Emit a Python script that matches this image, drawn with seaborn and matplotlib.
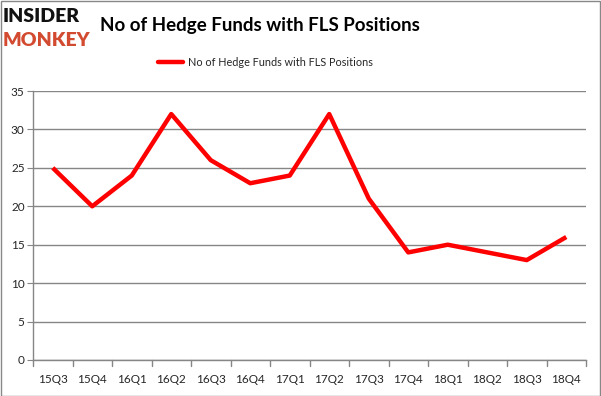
import matplotlib
matplotlib.use("Agg")
import matplotlib.pyplot as plt
import seaborn as sns
import pandas as pd
from matplotlib.patches import Rectangle

quarters = ["15Q3", "15Q4", "16Q1", "16Q2", "16Q3", "16Q4", "17Q1", "17Q2",
            "17Q3", "17Q4", "18Q1", "18Q2", "18Q3", "18Q4"]
funds = [25, 20, 24, 32, 26, 23, 24, 32, 21, 14, 15, 14, 13, 16]
yticks = [0, 5, 10, 15, 20, 25, 30, 35]
series_name = "No of Hedge Funds with FLS Positions"

df = pd.DataFrame({"quarter": quarters, "funds": funds})
df["pos"] = range(len(quarters))

sns.set_style("white")
plt.rcParams["font.family"] = ["Lato", "DejaVu Sans"]

fig = plt.figure(figsize=(6.01, 3.96), dpi=100)
ax = fig.add_axes([33 / 601, 36 / 396, (586 - 33) / 601, (360 - 91) / 396])

sns.lineplot(data=df, x="pos", y="funds", ax=ax, color="#ff0000", linewidth=3.2,
             label=series_name, legend=False, solid_capstyle="butt")

ax.set_xlim(-0.5, len(quarters) - 0.5)
ax.set_ylim(0, 35)
ax.set_yticks(yticks)
ax.set_yticklabels([str(v) for v in yticks], fontsize=8.5)
ax.set_xticks(range(len(quarters)))
ax.set_xticklabels(quarters, fontsize=8.5)
ax.tick_params(axis="x", length=0, pad=10)
ax.tick_params(axis="y", length=4, color="#868686", pad=2, left=True, direction="out")
# category boundary ticks
for b in [i - 0.5 for i in range(len(quarters) + 1)]:
    ax.plot([b, b], [0, -0.8], color="#868686", lw=1, clip_on=False)
ax.grid(axis="y", color="#868686", lw=1)
ax.set_axisbelow(True)
ax.set_xlabel("")
ax.set_ylabel("")
for s in ["top", "right"]:
    ax.spines[s].set_visible(False)
for s in ["left", "bottom"]:
    ax.spines[s].set_color("#868686")
    ax.spines[s].set_linewidth(1)

# Title and logo
fig.text(100 / 601, 1 - 25 / 396, "No of Hedge Funds with FLS Positions",
         fontsize=13.5, fontweight="bold", color="black", va="center", ha="left")
fig.text(3 / 601, 1 - 17 / 396, "INSIDER", fontsize=14, fontweight="heavy",
         color="#111111", va="center", ha="left")
fig.text(3 / 601, 1 - 40 / 396, "MONKEY", fontsize=14, fontweight="heavy",
         color="#d24a2f", va="center", ha="left")

# Legend
fig.add_artist(plt.Line2D([158 / 601, 183 / 601], [1 - 62 / 396, 1 - 62 / 396],
                          color="#ff0000", lw=3.2, transform=fig.transFigure))
fig.text(188 / 601, 1 - 62 / 396, series_name, fontsize=7.8, va="center", ha="left")

# Border
fig.add_artist(Rectangle((0.5 / 601, 0.5 / 396), 599.5 / 601, 394.5 / 396,
                         transform=fig.transFigure, fill=False, edgecolor="#888888", lw=1))

fig.savefig("out.png", dpi=100)
